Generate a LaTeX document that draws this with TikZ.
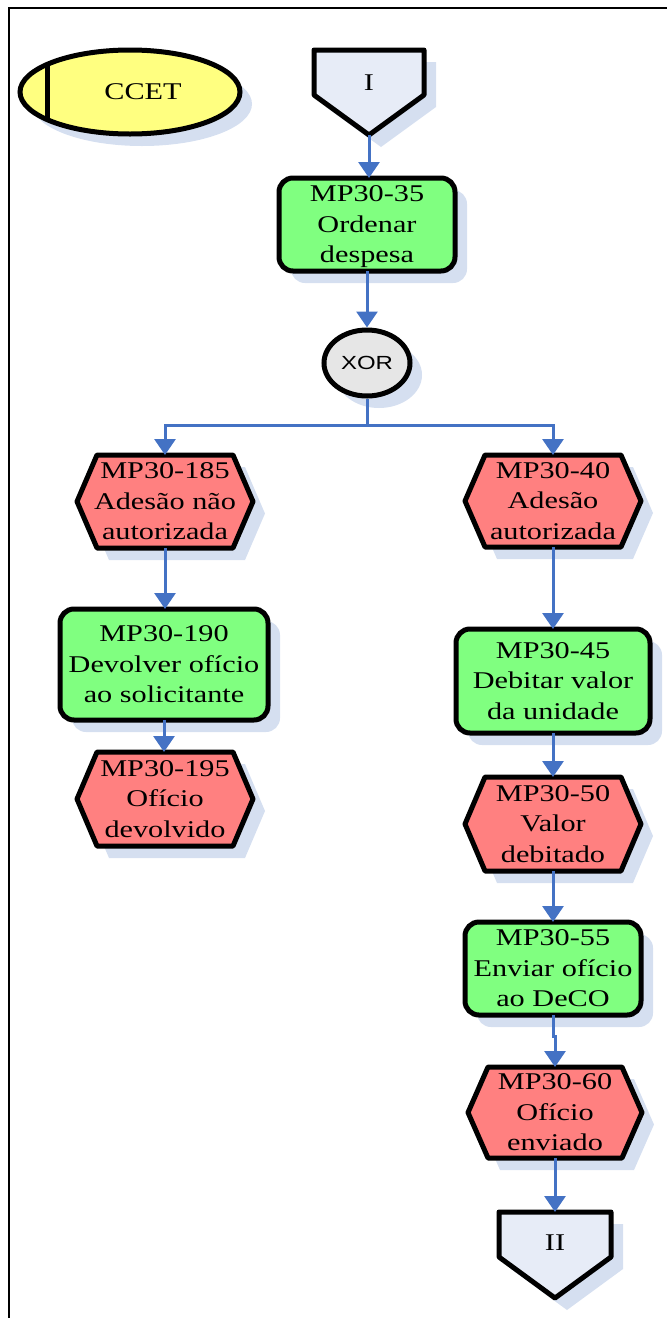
\documentclass[tikz,border=0pt]{standalone}
\usepackage{fontspec}
\setmainfont{Liberation Serif}[FakeStretch=1.26]
\newfontfamily\gatefont{Liberation Sans}[FakeStretch=1.26]
\usetikzlibrary{arrows.meta,calc,shapes.geometric,shadows,backgrounds}

\definecolor{funcgreen}{HTML}{80FF80}
\definecolor{eventred}{HTML}{FF8080}
\definecolor{orgyellow}{HTML}{FFFF80}
\definecolor{gategray}{HTML}{E6E6E6}
\definecolor{linkfill}{HTML}{E7ECF7}
\definecolor{shadowblue}{HTML}{D5DFF0}
\definecolor{flow}{HTML}{4472C4}

\tikzset{
  bodyfont/.style={font=\fontsize{24}{30.5}\selectfont},
  txt/.style={bodyfont, align=center},
  frame/.style={txt, rectangle, inner sep=0pt, outer sep=0pt},
  castshadow/.style={drop shadow={shadow xshift=12pt, shadow yshift=-12pt, fill=shadowblue, opacity=1}},
  funcbox/.style={frame, draw=black, line width=5pt, fill=funcgreen, rounded corners=14pt, castshadow},
  outline/.style={draw=black, line width=5pt, line join=round},
  flowline/.style={draw=flow, line width=3pt, -{Triangle[width=21pt,length=16pt]}},
}

% hexagonal event outline around a rectangular frame node
\newcommand\eventshape[1]{%
  \fill[shadowblue, transform canvas={xshift=12pt,yshift=-12pt}]
    (#1.west) -- ($(#1.north west)+(20,0)$) -- ($(#1.north east)+(-20,0)$) -- (#1.east)
    -- ($(#1.south east)+(-20,0)$) -- ($(#1.south west)+(20,0)$) -- cycle;
  \filldraw[outline, fill=eventred]
    (#1.west) -- ($(#1.north west)+(20,0)$) -- ($(#1.north east)+(-20,0)$) -- (#1.east)
    -- ($(#1.south east)+(-20,0)$) -- ($(#1.south west)+(20,0)$) -- cycle;
}
% pentagonal page connector (shoulder depth given as #2)
\newcommand\linkshape[2]{%
  \fill[shadowblue, transform canvas={xshift=12pt,yshift=-12pt}]
    (#1.north west) -- (#1.north east) -- ($(#1.north east)+(0,#2)$) -- (#1.south)
    -- ($(#1.north west)+(0,#2)$) -- cycle;
  \filldraw[outline, fill=linkfill]
    (#1.north west) -- (#1.north east) -- ($(#1.north east)+(0,#2)$) -- (#1.south)
    -- ($(#1.north west)+(0,#2)$) -- cycle;
}

\begin{document}
\begin{tikzpicture}[x=1pt, y=-1pt]
\useasboundingbox (0,0) rectangle (667,1318);

% organisational unit
\node[ellipse, minimum width=220pt, minimum height=84pt, inner sep=0pt, draw, line width=5pt,
      fill=orgyellow, castshadow, bodyfont,
      path picture={\draw[line width=5pt] ($(path picture bounding box.center)+(-83,-70)$) -- ++(0,140);}]
  (ccet) at (130,92) {\hspace*{26pt}CCET};

% page connectors
\node[frame, minimum width=110pt, minimum height=85pt,
      label={[bodyfont, yshift=9.5pt]center:I}] (linkI) at (369,92.5) {};
\node[frame, minimum width=112pt, minimum height=86pt,
      label={[bodyfont, yshift=12pt]center:II}] (linkII) at (555,1255) {};

% functions
\node[funcbox, minimum width=176pt, minimum height=93pt, text depth=-4pt] (op35) at (367,224.5) {MP30-35\\Ordenar\\despesa};
\node[funcbox, minimum width=208pt, minimum height=111pt] (op190) at (164,664.5) {MP30-190\\Devolver ofício\\ao solicitante};
\node[funcbox, minimum width=194pt, minimum height=104pt] (op45) at (553,681) {MP30-45\\Debitar valor\\da unidade};
\node[funcbox, minimum width=176pt, minimum height=93pt] (op55) at (553,968.5) {MP30-55\\Enviar ofício\\ao DeCO};

% exclusive gateway
\node[ellipse, minimum width=86pt, minimum height=66pt, inner sep=0pt, draw, line width=5pt,
      fill=gategray, castshadow, font=\gatefont\fontsize{19}{22}\selectfont] (xor) at (367,363) {XOR};

% events
\node[frame, minimum width=176pt, minimum height=93pt] (ev185) at (165,501.5) {MP30-185\\Adesão não\\autorizada};
\node[frame, minimum width=176pt, minimum height=94pt] (ev195) at (165,799) {MP30-195\\Ofício\\devolvido};
\node[frame, minimum width=176pt, minimum height=92pt] (ev40) at (553,501) {MP30-40\\Adesão\\autorizada};
\node[frame, minimum width=176pt, minimum height=94pt] (ev50) at (553,824) {MP30-50\\Valor\\debitado};
\node[frame, minimum width=174pt, minimum height=91pt] (ev60) at (555,1112.5) {MP30-60\\Ofício\\enviado};

\begin{scope}[on background layer]
  \eventshape{ev185}
  \eventshape{ev195}
  \eventshape{ev40}
  \eventshape{ev50}
  \eventshape{ev60}
  \linkshape{linkI}{45}
  \linkshape{linkII}{45}
\end{scope}

% page frame
\draw[line width=2pt, line cap=rect] (9,1320) -- (9,8) -- (668,8);

% control flow
\draw[flowline] (linkI.south) -- (linkI.south |- op35.north);
\draw[flowline] (op35.south) -- (op35.south |- xor.north);
\draw[flowline] (xor.south) -- ++(0,27) -| (ev185.north);
\draw[flowline] (xor.south) -- ++(0,27) -| (ev40.north);
\draw[flowline] (ev185.south) -- (ev185.south |- op190.north);
\draw[flowline] (op190.south) -- (op190.south |- ev195.north);
\draw[flowline] (ev40.south) -- (ev40.south |- op45.north);
\draw[flowline] (op45.south) -- (op45.south |- ev50.north);
\draw[flowline] (ev50.south) -- (ev50.south |- op55.north);
\draw[flowline] (op55.south) -- ++(0,21) -| (ev60.north);
\draw[flowline] (ev60.south) -- (ev60.south |- linkII.north);
\end{tikzpicture}
\end{document}
